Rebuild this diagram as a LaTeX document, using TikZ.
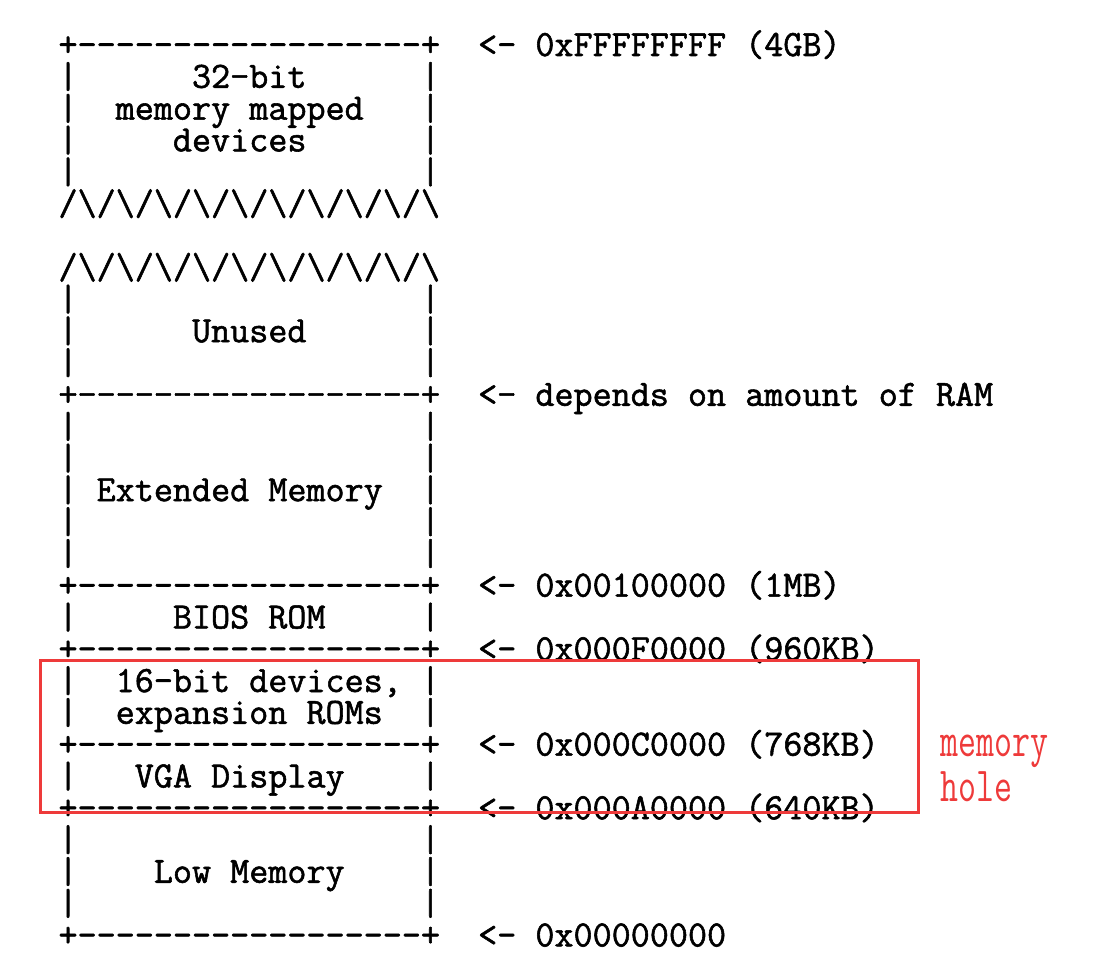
\documentclass[tikz,border=0pt]{standalone}
\usepackage{fontspec}
\usepackage{graphicx}
\setmonofont[FakeBold=1.5]{Latin Modern Mono}
\newfontfamily\holefont{Latin Modern Mono}
\definecolor{holered}{RGB}{238,58,58}
\begin{document}
\begin{tikzpicture}[x=1pt,y=-1pt,
  row/.style={anchor=base west,inner sep=0pt,outer sep=0pt,
    font=\ttfamily\fontsize{37.04pt}{32pt}\selectfont,text=black},
  holelabel/.style={anchor=base west,inner sep=0pt,text=holered,
    font=\holefont\fontsize{34.9pt}{30pt}\selectfont},
  holebox/.style={draw=holered,line width=3pt,inner sep=0pt}]
\useasboundingbox (0,0) rectangle (1115,963);
\def\bsl{\symbol{92}}
\def\zz{/\bsl/\bsl/\bsl/\bsl/\bsl/\bsl/\bsl/\bsl/\bsl/\bsl}
\newcommand\rowy[1]{56+31.8*#1}
\def\lx{58.5}
\node[row] (r0)  at (\lx,{\rowy{0}})  {+------------------+~~<-~0xFFFFFFFF~(4GB)};
\node[row] (r1)  at (\lx,{\rowy{1}})  {|~~~~~~32-bit~~~~~~|};
\node[row] (r2)  at (\lx,{\rowy{2}})  {|~~memory~mapped~~~|};
\node[row] (r3)  at (\lx,{\rowy{3}})  {|~~~~~devices~~~~~~|};
\node[row] (r4)  at (\lx,{\rowy{4}})  {|~~~~~~~~~~~~~~~~~~|};
\node[row] (r5)  at (\lx,{\rowy{5}})  {\zz};
\node[row] (r7)  at (\lx,{\rowy{7}})  {\zz};
\node[row] (r8)  at (\lx,{\rowy{8}})  {|~~~~~~~~~~~~~~~~~~|};
\node[row] (r9)  at (\lx,{\rowy{9}})  {|~~~~~~Unused~~~~~~|};
\node[row] (r10) at (\lx,{\rowy{10}}) {|~~~~~~~~~~~~~~~~~~|};
\node[row] (r11) at (\lx,{\rowy{11}}) {+------------------+~~<-~depends~on~amount~of~RAM};
\node[row] (r12) at (\lx,{\rowy{12}}) {|~~~~~~~~~~~~~~~~~~|};
\node[row] (r13) at (\lx,{\rowy{13}}) {|~~~~~~~~~~~~~~~~~~|};
\node[row] (r14) at (\lx,{\rowy{14}}) {|~Extended~Memory~~|};
\node[row] (r15) at (\lx,{\rowy{15}}) {|~~~~~~~~~~~~~~~~~~|};
\node[row] (r16) at (\lx,{\rowy{16}}) {|~~~~~~~~~~~~~~~~~~|};
\node[row] (r17) at (\lx,{\rowy{17}}) {+------------------+~~<-~0x00100000~(1MB)};
\node[row] (r18) at (\lx,{\rowy{18}}) {|~~~~~BIOS~ROM~~~~~|};
\node[row] (r19) at (\lx,{\rowy{19}}) {+------------------+~~<-~0x000F0000~(960KB)};
\node[row] (r20) at (\lx,{\rowy{20}}) {|~~16-bit~devices,~|};
\node[row] (r21) at (\lx,{\rowy{21}}) {|~~expansion~ROMs~~|};
\node[row] (r22) at (\lx,{\rowy{22}}) {+------------------+~~<-~0x000C0000~(768KB)};
\node[row] (r23) at (\lx,{\rowy{23}}) {|~~~VGA~Display~~~~|};
\node[row] (r24) at (\lx,{\rowy{24}}) {+------------------+~~<-~0x000A0000~(640KB)};
\node[row] (r25) at (\lx,{\rowy{25}}) {|~~~~~~~~~~~~~~~~~~|};
\node[row] (r26) at (\lx,{\rowy{26}}) {|~~~~Low~Memory~~~~|};
\node[row] (r27) at (\lx,{\rowy{27}}) {|~~~~~~~~~~~~~~~~~~|};
\node[row] (r28) at (\lx,{\rowy{28}}) {+------------------+~~<-~0x00000000};
\node[holebox,minimum width=878pt,minimum height=152pt] (hole) at (479,736) {};
\node[holelabel] (hl1) at (940,756) {\scalebox{1}[1.4]{memory}};
\node[holelabel] (hl2) at (940,801) {\scalebox{1}[1.4]{hole}};
\end{tikzpicture}
\end{document}
